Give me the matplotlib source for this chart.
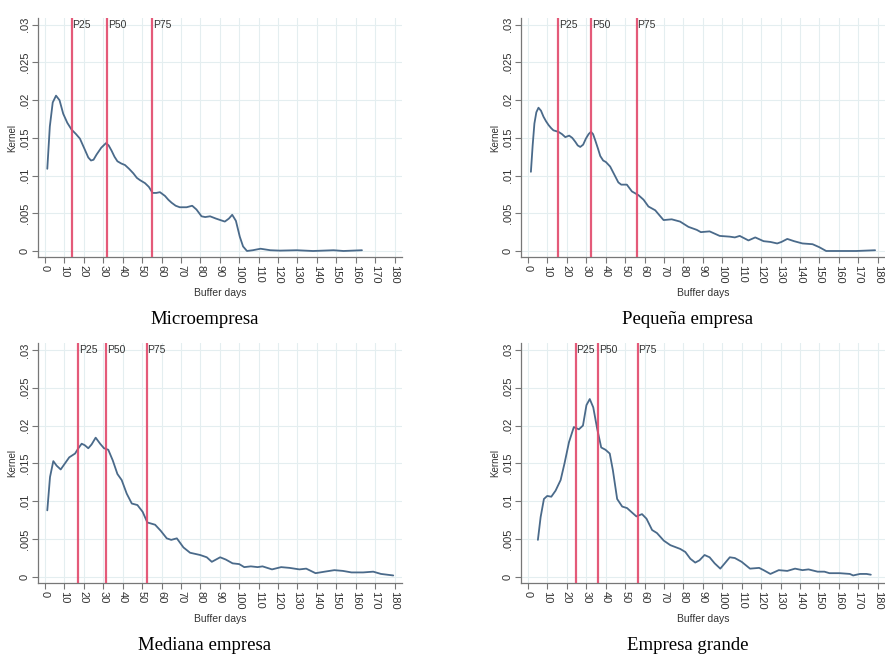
import matplotlib.pyplot as plt

# Microempresa
micro_days = [1.2, 2.5, 4.0, 5.7, 7.5, 9.4, 11.5, 13.7, 16.0, 18.0, 20.6, 22.3, 23.7, 25.0,
              26.6, 29.0, 31.4, 32.8, 34.3, 35.8, 37.3, 39.3, 41.2, 43.3, 45.5, 47.3, 48.9,
              51.5, 53.5, 55.4, 57.3, 59.2, 61.8, 63.5, 65.2, 67.3, 69.4, 72.9, 75.8, 78.0,
              80.6, 82.5, 85.0, 88.0, 92.6, 94.7, 96.4, 98.3, 100.3, 102.0, 104.0, 107.0,
              111.0, 116.0, 121.0, 129.6, 138.0, 148.6, 153.7, 163.2]
micro_kernel = [0.0109, 0.0165, 0.0197, 0.0206, 0.0200, 0.0182, 0.0170, 0.0161, 0.0155,
                0.0149, 0.0134, 0.0124, 0.0120, 0.0121, 0.0128, 0.0137, 0.0143, 0.0140,
                0.0133, 0.0125, 0.0119, 0.0116, 0.0114, 0.0109, 0.0103, 0.0097, 0.0094,
                0.0090, 0.0085, 0.0077, 0.0077, 0.0078, 0.0073, 0.0068, 0.0064, 0.0060,
                0.0058, 0.0058, 0.0060, 0.0055, 0.0046, 0.0045, 0.0046, 0.0043, 0.0039,
                0.0043, 0.0048, 0.0040, 0.0019, 0.0006, 0.0000, 0.0001, 0.0003, 0.0001,
                0.00005, 0.0001, 0.0000, 0.0001, 0.0000, 0.0001]

# Pequeña empresa
small_days = [1.5, 2.4, 3.3, 4.3, 5.4, 6.7, 8.0, 9.3, 10.6, 11.9, 13.1, 15.7, 17.5, 19.2,
              21.2, 22.8, 24.3, 25.6, 26.9, 28.4, 29.8, 31.2, 32.4, 33.5, 34.6, 36.0,
              37.2, 38.7, 40.1, 42.3, 44.9, 46.5, 48.0, 50.9, 53.5, 56.9, 59.5, 62.0,
              65.5, 67.8, 69.8, 74.0, 78.3, 82.6, 86.9, 89.0, 93.5, 98.7, 103.9, 106.5,
              109.0, 113.5, 117.0, 121.3, 124.8, 128.3, 130.5, 133.5, 137.0, 141.3,
              146.5, 150.0, 153.5, 160.4, 169.0, 178.7]
small_kernel = [0.0105, 0.0140, 0.0169, 0.0184, 0.0190, 0.0186, 0.0178, 0.0172, 0.0167,
                0.0163, 0.0160, 0.0158, 0.0155, 0.0151, 0.0153, 0.0150, 0.0145, 0.0140,
                0.0138, 0.0141, 0.0149, 0.0155, 0.0158, 0.0155, 0.0147, 0.0136, 0.0126,
                0.0120, 0.0118, 0.0112, 0.0099, 0.0091, 0.0088, 0.0088, 0.0079, 0.0074,
                0.0068, 0.0059, 0.0054, 0.0047, 0.0041, 0.0042, 0.0039, 0.0032, 0.0028,
                0.0025, 0.0026, 0.0020, 0.0019, 0.0018, 0.0020, 0.0014, 0.0018, 0.0013,
                0.0012, 0.0010, 0.0012, 0.0016, 0.0013, 0.0010, 0.0009, 0.0005, 0.0000,
                0.0000, 0.0000, 0.0001]

# Mediana empresa
medium_days = [1.2, 2.6, 4.3, 6.0, 8.1, 10.3, 12.5, 15.5, 17.2, 18.9, 20.5, 22.3, 24.0,
               26.1, 28.4, 30.4, 32.6, 34.9, 37.3, 39.5, 42.1, 44.7, 47.6, 50.3, 52.7,
               56.7, 59.6, 62.7, 65.0, 67.9, 71.3, 74.7, 79.9, 83.3, 85.9, 90.2, 93.1,
               96.6, 100.0, 102.6, 106.0, 109.5, 112.0, 116.9, 121.6, 125.9, 131.0,
               134.5, 139.3, 144.0, 149.0, 153.4, 157.8, 163.8, 169.0, 173.0, 179.3]
medium_kernel = [0.0088, 0.0132, 0.0153, 0.0147, 0.0142, 0.0150, 0.0158, 0.0163, 0.0170,
                 0.0176, 0.0174, 0.0170, 0.0175, 0.0184, 0.0176, 0.0170, 0.0168, 0.0154,
                 0.0136, 0.0128, 0.0110, 0.0097, 0.0095, 0.0086, 0.0072, 0.0069, 0.0061,
                 0.0051, 0.0049, 0.0051, 0.0039, 0.0032, 0.0029, 0.0026, 0.0020, 0.0026,
                 0.0023, 0.0018, 0.0017, 0.0013, 0.0014, 0.0013, 0.0014, 0.0010, 0.0013,
                 0.0012, 0.0010, 0.0011, 0.0005, 0.0007, 0.0009, 0.0008, 0.0006, 0.0006,
                 0.0007, 0.0004, 0.0002]

# Empresa grande
large_days = [5.1, 6.5, 8.2, 9.9, 12.0, 14.2, 16.8, 18.8, 21.1, 23.6, 26.2, 28.3, 30.1,
              31.8, 33.6, 35.6, 37.7, 39.9, 42.1, 43.7, 45.9, 48.5, 51.0, 53.6, 55.8,
              58.7, 61.0, 63.9, 66.4, 69.9, 73.3, 78.4, 81.0, 83.6, 86.1, 88.3, 90.9,
              93.5, 96.1, 99.0, 101.3, 103.9, 106.5, 110.0, 114.3, 119.0, 121.3, 124.8,
              129.1, 133.5, 137.5, 141.3, 144.4, 149.1, 152.6, 155.2, 160.4, 165.7,
              167.4, 170.9, 174.3, 176.5]
large_kernel = [0.0049, 0.0079, 0.0103, 0.0107, 0.0106, 0.0114, 0.0128, 0.0150, 0.0178,
                0.0198, 0.0195, 0.0200, 0.0227, 0.0235, 0.0224, 0.0196, 0.0171, 0.0168,
                0.0163, 0.0141, 0.0103, 0.0093, 0.0091, 0.0085, 0.0080, 0.0083, 0.0077,
                0.0062, 0.0058, 0.0048, 0.0042, 0.0037, 0.0033, 0.0024, 0.0019, 0.0022,
                0.0029, 0.0026, 0.0018, 0.0011, 0.0018, 0.0026, 0.0025, 0.0020, 0.0011,
                0.0012, 0.0009, 0.0004, 0.0009, 0.0008, 0.0011, 0.0009, 0.0010, 0.0007,
                0.0007, 0.0005, 0.0005, 0.0004, 0.0002, 0.0004, 0.0004, 0.0003]

# percentiles (P25, P50, P75) per group
pct_labels = ['P25', 'P50', 'P75']
micro_pct = [13.7, 32.0, 55.2]
small_pct = [15.6, 32.4, 55.9]
medium_pct = [17.0, 31.4, 52.3]
large_pct = [24.5, 36.0, 56.4]

titles = ['Microempresa', 'Pequeña empresa', 'Mediana empresa', 'Empresa grande']

x_ticks = list(range(0, 181, 10))
y_ticks = [0, 0.005, 0.01, 0.015, 0.02, 0.025, 0.03]
y_labels = ['0', '.005', '.01', '.015', '.02', '.025', '.03']

plt.rcParams['font.family'] = ['Liberation Sans', 'DejaVu Sans']

fig = plt.figure(figsize=(8.85, 6.57), dpi=100)

panels = [
    ([0.0429, 0.6088, 0.4113, 0.3638], micro_days, micro_kernel, micro_pct),
    ([0.5887, 0.6088, 0.4113, 0.3638], small_days, small_kernel, small_pct),
    ([0.0429, 0.1126, 0.4113, 0.3653], medium_days, medium_kernel, medium_pct),
    ([0.5887, 0.1126, 0.4113, 0.3653], large_days, large_kernel, large_pct),
]
title_pos = [(0.2316, 0.513), (0.777, 0.513), (0.2316, 0.018), (0.777, 0.018)]

grid_col = '#e4eef0'
line_col = '#4a6a8a'
red_col = '#e2486a'

for (rect, days, kern, pct), title, (tx, ty) in zip(panels, titles, title_pos):
    ax = fig.add_axes(rect)
    ax.set_xlim(-3.6, 183.8)
    ax.set_ylim(-0.0008, 0.0309)
    ax.set_xticks(x_ticks)
    ax.set_yticks(y_ticks)
    ax.set_yticklabels(y_labels, rotation=90, va='center')
    ax.set_xticklabels([str(t) for t in x_ticks], rotation=270, ha='center')
    ax.grid(True, color=grid_col, lw=0.8)
    ax.set_axisbelow(True)
    for s in ['top', 'right']:
        ax.spines[s].set_visible(False)
    for s in ['left', 'bottom']:
        ax.spines[s].set_color('#777777')
        ax.spines[s].set_linewidth(0.9)
    ax.tick_params(direction='out', length=4, width=0.8, color='#777777',
                   labelsize=8, labelcolor='#333333', pad=2)

    ax.plot(days, kern, color=line_col, lw=1.3, zorder=3,
            solid_joinstyle='round', solid_capstyle='round')
    for p, lab in zip(pct, pct_labels):
        ax.axvline(p, color=red_col, lw=1.6, alpha=0.9, zorder=4)
        ax.text(p + 0.4, 0.03, lab, fontsize=7.5, color='#333333', va='center', ha='left')

    ax.set_ylabel('Kernel', fontsize=7, color='#333333', labelpad=2)
    ax.set_xlabel('Buffer days', fontsize=7.5, color='#333333', labelpad=3)

    fig.text(tx, ty, title, ha='center', va='center', fontsize=13.5,
             family=['Liberation Serif', 'DejaVu Serif'])

plt.savefig('out.png', dpi=100)
plt.close()
